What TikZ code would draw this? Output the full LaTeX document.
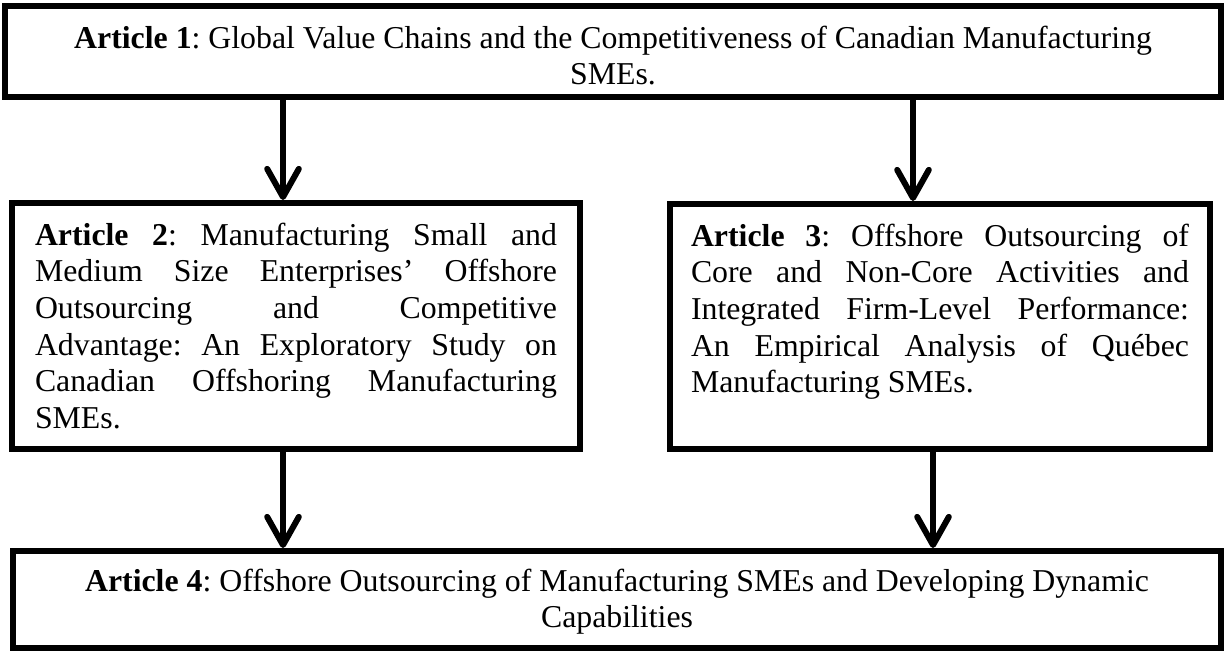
\documentclass[tikz,border=0pt]{standalone}
\usepackage{fontspec}
\setmainfont{Liberation Serif}
\usetikzlibrary{arrows.meta}

\begin{document}
\begin{tikzpicture}[box/.style={draw, line width=0.6mm, inner sep=0pt,
                     font=\fontsize{9.05}{10.4}\selectfont\frenchspacing},
                    flow/.style={line width=0.6mm,
                     -{Straight Barb[length=8pt,width=9pt,round]}}]
  \useasboundingbox (0,0) rectangle (12.25,6.53);
  % the four articles
  \node[box, minimum width=12.16cm, minimum height=0.91cm] (art1) at (6.13,6.015)
    {\parbox[c][0.51cm][t]{11.8cm}{\centering
     \textbf{Article 1}: Global Value Chains and the Competitiveness of Canadian Manufacturing\\
     SMEs.}};
  \node[box, minimum width=5.68cm, minimum height=2.46cm] (art2) at (2.96,3.27)
    {\parbox[c][2.06cm][t]{5.22cm}{\sloppy
     \textbf{Article 2}: Manufacturing Small and\linebreak
     Medium Size Enterprises’ Offshore\linebreak
     Outsourcing and Competitive\linebreak
     Advantage: An Exploratory Study on\linebreak
     Canadian Offshoring Manufacturing\linebreak
     SMEs.}};
  \node[box, minimum width=5.40cm, minimum height=2.45cm] (art3) at (9.40,3.265)
    {\parbox[c][2.05cm][t]{4.98cm}{\sloppy
     \textbf{Article 3}: Offshore Outsourcing of\linebreak
     Core and Non-Core Activities and\linebreak
     Integrated Firm-Level Performance:\linebreak
     An Empirical Analysis of Québec\linebreak
     Manufacturing SMEs.}};
  \node[box, minimum width=12.08cm, minimum height=0.97cm] (art4) at (6.17,0.535)
    {\parbox[c][0.61cm][t]{11.8cm}{\centering
     \textbf{Article 4}: Offshore Outsourcing of Manufacturing SMEs and Developing Dynamic\\
     Capabilities}};
  % arrow columns
  \coordinate (c2in)  at ([xshift=-0.13cm]art2.north);
  \coordinate (c3in)  at ([xshift=-0.27cm]art3.north);
  \coordinate (c2out) at ([xshift=-0.13cm]art2.south);
  \coordinate (c3out) at ([xshift=-0.07cm]art3.south);
  \path[flow]
    (c2in |- art1.south) edge (c2in)
    (c3in |- art1.south) edge (c3in)
    (c2out) edge (c2out |- art4.north)
    (c3out) edge (c3out |- art4.north);
\end{tikzpicture}
\end{document}
